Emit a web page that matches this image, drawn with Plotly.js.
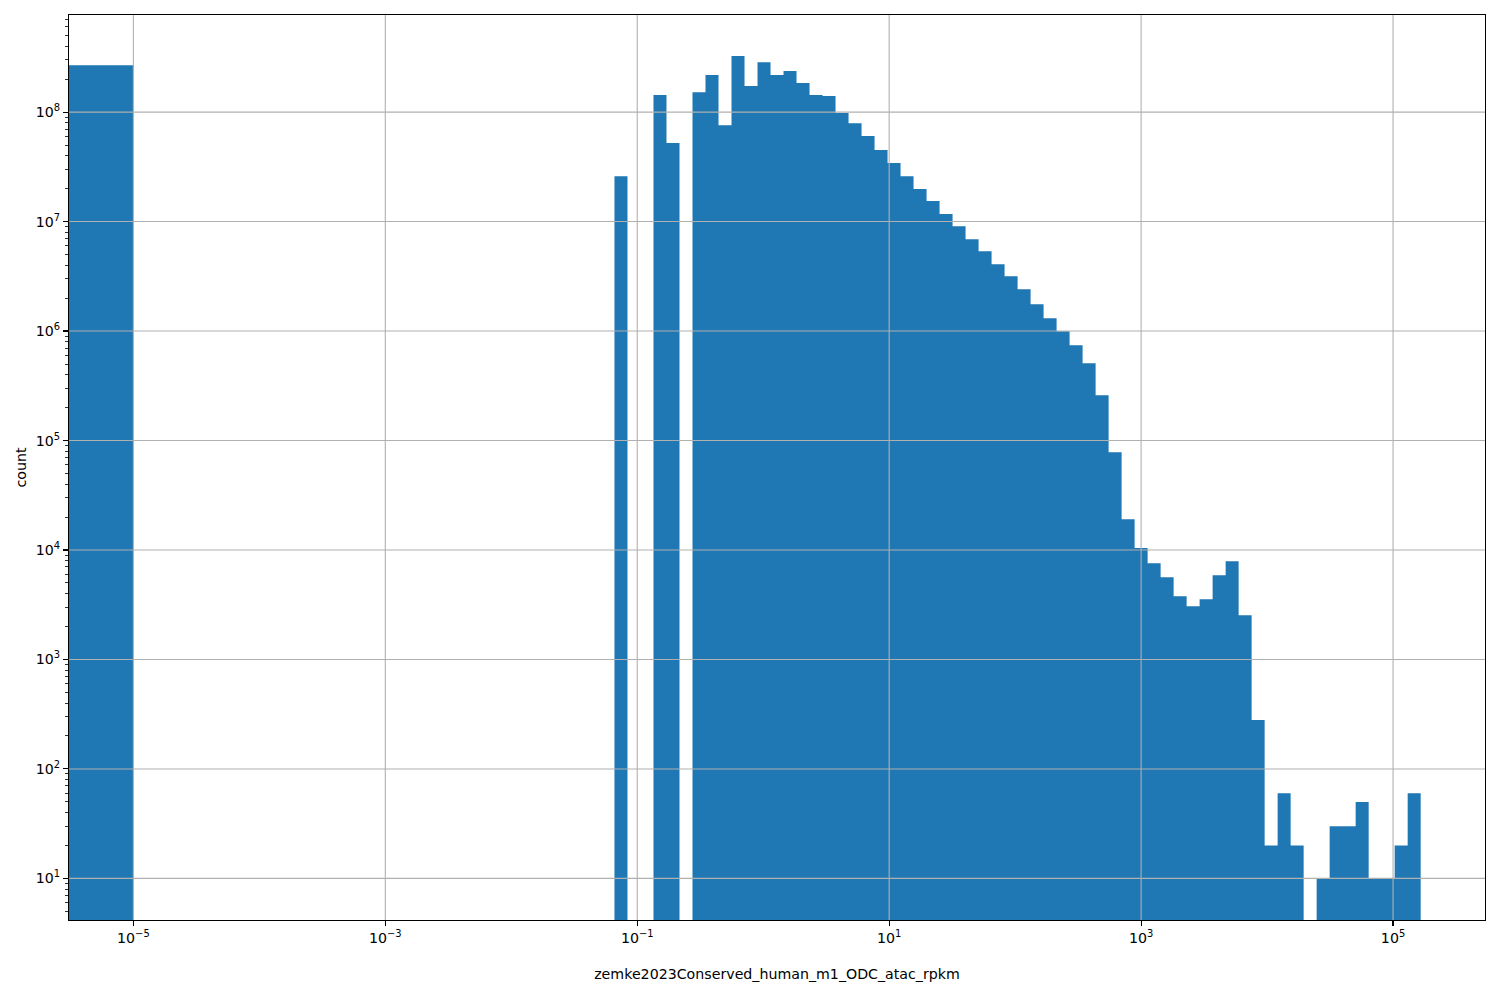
<!DOCTYPE html>
<html>
<head>
<meta charset="utf-8">
<script src="https://cdn.plot.ly/plotly-3.0.1.min.js"></script>
<style>html,body{margin:0;padding:0;background:#fff;}#chart{width:1500px;height:1000px;}</style>
</head>
<body>
<div id="chart"></div>
<script>
// ---- Data ----
// Histogram binning: one bin [0, 1e-5] followed by 99 log-spaced bins from 1e-5 to ~1.657e5
const zeroBinUpper = 1e-5;
const zeroBinCount = 2.68e8;
const logBinMin = 1e-5;
const logBinMax = 1.657e5;
const logBinCount = 99;

// counts of the 99 log-spaced bins, left to right
const logBinCounts = [
  0, 0, 0, 0, 0, 0, 0, 0, 0, 0,
  0, 0, 0, 0, 0, 0, 0, 0, 0, 0,
  0, 0, 0, 0, 0, 0, 0, 0, 0, 0,
  0, 0, 0, 0, 0, 0, 0,
  2.60e7, 0, 0, 1.43e8, 5.21e7, 0, 1.52e8, 2.18e8, 7.6e7, 3.25e8,
  1.73e8, 2.86e8, 2.18e8, 2.37e8, 1.84e8, 1.43e8, 1.40e8, 9.8e7, 7.93e7, 6.04e7,
  4.5e7, 3.42e7, 2.60e7, 1.98e7, 1.54e7, 1.17e7, 9.08e6, 6.91e6, 5.37e6, 4.08e6,
  3.17e6, 2.41e6, 1.76e6, 1.31e6, 9.98e5, 7.43e5, 5.08e5, 2.59e5, 7.8e4, 1.91e4,
  1.04e4, 7.57e3, 5.64e3, 3.78e3, 3.06e3, 3.55e3, 5.87e3, 7.89e3, 2.53e3, 280,
  20, 60, 20, 0, 10, 30, 30, 50, 10, 10,
  20, 60
];

const xTickVals = [1e-5, 1e-3, 1e-1, 1e1, 1e3, 1e5];
const xTickText = ['10<sup>\u22125</sup>', '10<sup>\u22123</sup>', '10<sup>\u22121</sup>', '10<sup>1</sup>', '10<sup>3</sup>', '10<sup>5</sup>'];
const yTickVals = [1e1, 1e2, 1e3, 1e4, 1e5, 1e6, 1e7, 1e8];
const yTickText = ['10<sup>1</sup>', '10<sup>2</sup>', '10<sup>3</sup>', '10<sup>4</sup>', '10<sup>5</sup>', '10<sup>6</sup>', '10<sup>7</sup>', '10<sup>8</sup>'];
const yMinorDigits = [2, 3, 4, 5, 6, 7, 8, 9];

const xTitle = 'zemke2023Conserved_human_m1_ODC_atac_rpkm';
const yTitle = 'count';

// ---- Build histogram outline ----
const lmin = Math.log10(logBinMin), lmax = Math.log10(logBinMax);
const edges = [];
for (let k = 0; k <= logBinCount; k++) edges.push(Math.pow(10, lmin + (lmax - lmin) * k / logBinCount));

const lefts = [1e-8].concat(edges.slice(0, -1));   // zero-bin starts at 0 (off the log axis)
const rights = [zeroBinUpper].concat(edges.slice(1));
const counts = [zeroBinCount].concat(logBinCounts);

const floorY = 1; // below the visible y range
const px = [lefts[0]], py = [floorY];
for (let i = 0; i < counts.length; i++) {
  const c = counts[i] > 0 ? counts[i] : floorY;
  px.push(lefts[i], rights[i]);
  py.push(c, c);
}
px.push(rights[rights.length - 1], lefts[0]);
py.push(floorY, floorY);

const trace = {
  type: 'scatter', mode: 'lines', x: px, y: py,
  fill: 'toself', fillcolor: '#1f77b4',
  line: {width: 0, color: '#1f77b4'},
  hoverinfo: 'skip', showlegend: false
};

// grid lines drawn above bars (as in the reference)
const gridColor = '#b0b0b0';
const shapes = [];
xTickVals.forEach(v => shapes.push({type: 'line', layer: 'above', xref: 'x', yref: 'paper', x0: v, x1: v, y0: 0, y1: 1, line: {color: gridColor, width: 1.1}}));
yTickVals.forEach(v => shapes.push({type: 'line', layer: 'above', xref: 'paper', yref: 'y', x0: 0, x1: 1, y0: v, y1: v, line: {color: gridColor, width: 1.1}}));

const yMinor = [];
for (let e = 0; e <= 8; e++) yMinorDigits.forEach(d => yMinor.push(d * Math.pow(10, e)));

const font = {family: 'DejaVu Sans, sans-serif', size: 14.2, color: '#000'};

const layout = {
  width: 1500, height: 1000,
  margin: {l: 69, r: 15, t: 15, b: 80, pad: 0},
  paper_bgcolor: '#fff', plot_bgcolor: '#fff',
  font: font,
  showlegend: false,
  xaxis: {
    type: 'log', range: [-5.511, 5.730], autorange: false,
    showgrid: false, zeroline: false,
    showline: true, linecolor: '#000', linewidth: 1.1, mirror: true,
    ticks: 'outside', ticklen: 4.9, tickwidth: 1.1, tickcolor: '#000',
    tickmode: 'array', tickvals: xTickVals, ticktext: xTickText,
    tickfont: font, layer: 'above traces', automargin: false,
    title: {text: xTitle, font: font, standoff: 24}
  },
  yaxis: {
    type: 'log', range: [0.62, 8.887], autorange: false,
    showgrid: false, zeroline: false,
    showline: true, linecolor: '#000', linewidth: 1.1, mirror: true,
    ticks: 'outside', ticklen: 4.9, tickwidth: 1.1, tickcolor: '#000',
    tickmode: 'array', tickvals: yTickVals, ticktext: yTickText,
    tickfont: font, layer: 'above traces', automargin: false,
    minor: {tickmode: 'array', tickvals: yMinor, ticks: 'outside', ticklen: 2.8, tickwidth: 0.8, tickcolor: '#000', showgrid: false},
    title: {text: yTitle, font: font, standoff: 5}
  },
  shapes: shapes
};

Plotly.newPlot('chart', [trace], layout, {displayModeBar: false, staticPlot: true});
</script>
</body>
</html>
